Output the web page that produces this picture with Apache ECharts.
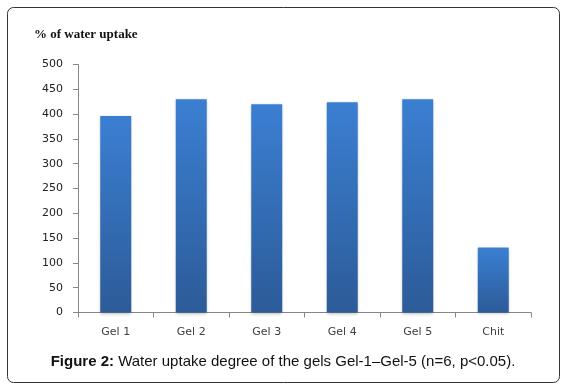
<!DOCTYPE html>
<html>
<head>
<meta charset="utf-8">
<script src="https://cdn.jsdelivr.net/npm/echarts@6/dist/echarts.min.js"></script>
<style>
  html, body { margin: 0; padding: 0; background: #fff; }
  #chart { width: 566px; height: 389px; }
</style>
</head>
<body>
<div id="chart"></div>
<script>
var categories = ['Gel 1', 'Gel 2', 'Gel 3', 'Gel 4', 'Gel 5', 'Chit'];
var uptake = [396, 430, 420, 424, 430, 131];
var yTicks = [0, 50, 100, 150, 200, 250, 300, 350, 400, 450, 500];

var chartDom = document.getElementById('chart');
var myChart = echarts.init(chartDom);

var option = {
  animation: false,
  backgroundColor: '#fff',
  graphic: [
    {
      type: 'rect',
      shape: { x: 7.5, y: 7.5, width: 552, height: 375, r: 6 },
      style: { fill: 'none', stroke: '#333', lineWidth: 1 }
    },
    {
      type: 'text',
      left: 34,
      top: 28,
      style: {
        text: '% of water uptake',
        font: 'bold 13px "Liberation Serif", serif',
        fill: '#111'
      }
    },
    {
      type: 'text',
      left: 'center',
      top: 354,
      style: {
        rich: {
          b: { font: 'bold 15px "Liberation Sans", Arial, sans-serif', fill: '#111' },
          n: { font: '15px "Liberation Sans", Arial, sans-serif', fill: '#111' }
        },
        text: '{b|Figure 2:}{n| Water uptake degree of the gels Gel-1\u2013Gel-5 (n=6, p<0.05).}'
      }
    }
  ],
  grid: {
    left: 78,
    right: 35,
    top: 64.5,
    bottom: 76.5,
    containLabel: false
  },
  xAxis: {
    type: 'category',
    data: categories,
    axisLine: { lineStyle: { color: '#868686', width: 1 } },
    axisTick: { show: true, length: 5, alignWithLabel: false, lineStyle: { color: '#868686' } },
    axisLabel: {
      color: '#404040',
      fontFamily: '"DejaVu Sans", Verdana, sans-serif',
      fontSize: 11,
      margin: 14
    }
  },
  yAxis: {
    type: 'value',
    min: yTicks[0],
    max: yTicks[yTicks.length - 1],
    interval: 50,
    splitLine: { show: false },
    axisLine: { show: true, lineStyle: { color: '#868686', width: 1 } },
    axisTick: { show: true, length: 5, lineStyle: { color: '#868686' } },
    axisLabel: {
      color: '#222',
      fontFamily: '"DejaVu Sans", Verdana, sans-serif',
      fontSize: 11,
      margin: 15
    }
  },
  series: [
    {
      type: 'bar',
      data: uptake,
      barWidth: 31,
      itemStyle: {
        color: new echarts.graphic.LinearGradient(0, 0, 0, 1, [
          { offset: 0, color: '#3b7fd2' },
          { offset: 1, color: '#2c5b98' }
        ]),
        shadowColor: 'rgba(0,0,0,0.25)',
        shadowBlur: 3,
        shadowOffsetX: 0,
        shadowOffsetY: 1
      }
    }
  ]
};

myChart.setOption(option);
window.addEventListener('resize', function () { myChart.resize(); });
</script>
</body>
</html>
